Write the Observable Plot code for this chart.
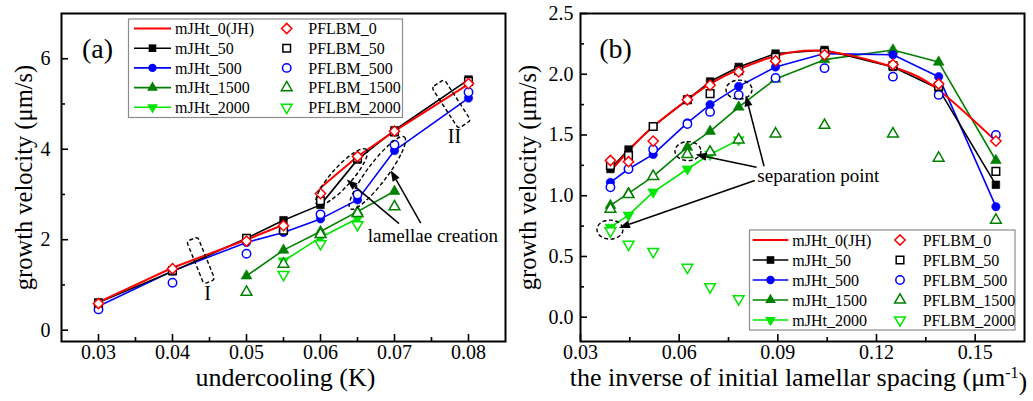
<!DOCTYPE html>
<html>
<head>
<meta charset="utf-8">
<script src="https://cdn.jsdelivr.net/npm/d3@7"></script>
<script src="https://cdn.jsdelivr.net/npm/@observablehq/plot@0.6"></script>
<style>
  body { margin: 0; background: #fff; }
  #fig { position: relative; width: 1033px; height: 401px; background: #fff; overflow: hidden; }
  #fig svg { position: absolute; top: 0; }
</style>
</head>
<body>
<div id="fig"></div>
<script>
// ---------- panel (a): growth velocity against undercooling ----------
const undercooling     = [0.03, 0.04, 0.05, 0.055, 0.06, 0.065, 0.07, 0.08];
const a_mJHt0          = [0.62, 1.38, 2.00, 2.33, 3.15, 3.84, 4.40, 5.44];
const a_mJHt0Branch    = [0, 0, 0, 0, 1, 1, 1, 1];   // JH curve jumps where lamellae are created
const a_PFLBM0         = [0.59, 1.36, 1.97, 2.31, 3.02, 3.84, 4.40, 5.45];
const a_mJHt50         = [0.61, 1.30, 2.03, 2.43, 2.77, 3.77, 4.42, 5.54];
const a_PFLBM50        = [0.60, 1.32, 2.03, 2.21, 2.86, 3.80, 4.38, 5.50];
const a_mJHt500        = [0.53, 1.31, 1.94, 2.16, 2.46, 2.88, 3.97, 5.13];
const a_PFLBM500       = [0.46, 1.05, 1.69, 2.20, 2.56, 3.00, 4.10, 5.26];
const undercooling1500 = [0.05, 0.055, 0.06, 0.065, 0.07];
const a_mJHt1500       = [1.20, 1.77, 2.18, 2.62, 3.07];
const a_PFLBM1500      = [0.84, 1.46, 2.12, 2.58, 2.73];
const undercooling2000 = [0.055, 0.06, 0.065];
const a_mJHt2000       = [1.53, 2.05, 2.47];
const a_PFLBM2000      = [1.23, 1.91, 2.33];

// ---------- panel (b): growth velocity against inverse lamellar spacing ----------
const inverseSpacing     = [0.0391, 0.0446, 0.0521, 0.0625, 0.0694, 0.0781, 0.0893, 0.1042, 0.125, 0.1389, 0.1563];
const b_mJHt0            = [1.20, 1.37, 1.57, 1.79, 1.92, 2.04, 2.15, 2.19, 2.06, 1.87, 1.45];
const b_PFLBM0           = [1.29, 1.28, 1.45, 1.79, 1.91, 2.02, 2.11, 2.16, 2.08, 1.92, 1.45];
const b_mJHt50           = [1.22, 1.38, 1.57, 1.79, 1.94, 2.06, 2.17, 2.20, 2.06, 1.88, 1.09];
const b_PFLBM50          = [1.25, 1.33, 1.57, 1.79, 1.84, 2.03, 2.14, 2.18, 2.07, 1.90, 1.20];
const b_mJHt500          = [1.11, 1.22, 1.34, 1.60, 1.75, 1.90, 2.06, 2.17, 2.16, 1.98, 0.91];
const b_PFLBM500         = [1.07, 1.22, 1.38, 1.59, 1.69, 1.83, 1.97, 2.05, 1.98, 1.83, 1.50];
const b_mJHt1500         = [0.92, 1.02, 1.16, 1.40, 1.53, 1.73, 1.96, 2.12, 2.20, 2.10, 1.29];
const b_PFLBM1500        = [0.89, 1.01, 1.16, 1.34, 1.36, 1.46, 1.51, 1.58, 1.51, 1.31, 0.80];
const inverseSpacing2000 = [0.0391, 0.0446, 0.0521, 0.0625, 0.0694, 0.0781];
const b_mJHt2000         = [0.74, 0.84, 1.03, 1.22, 1.34, 1.46];
const b_PFLBM2000        = [0.71, 0.60, 0.54, 0.41, 0.25, 0.15];

// ---------- legend text and axis ticks ----------
const modelNames = ["mJHt_0(JH)", "mJHt_50", "mJHt_500", "mJHt_1500", "mJHt_2000"];
const simNames   = ["PFLBM_0", "PFLBM_50", "PFLBM_500", "PFLBM_1500", "PFLBM_2000"];
const aTicksX = [0.03, 0.04, 0.05, 0.06, 0.07, 0.08];
const aMinorX = [0.035, 0.045, 0.055, 0.065, 0.075];
const aTicksY = [0, 2, 4, 6];
const aMinorY = [1, 3, 5];
const bTicksX = [0.03, 0.06, 0.09, 0.12, 0.15];
const bMinorX = [0.045, 0.075, 0.105, 0.135];
const bTicksY = [0, 0.5, 1.0, 1.5, 2.0, 2.5];
const bMinorY = [0.25, 0.75, 1.25, 1.75, 2.25];

// ---------- annotations (data coordinates) ----------
const aNotes  = [{text: "I", x: 0.04475, y: 0.80}, {text: "II", x: 0.0781, y: 4.28},
                 {text: "lamellae creation", x: 0.0752, y: 2.08}];
const aBoxes  = [{x: 0.04389, y: 1.53}, {x: 0.07774, y: 4.99}];
const aRings  = [{x: 0.06292, y: 3.377}, {x: 0.06775, y: 3.466}];
const aArrows = [{x1: 0.07068, y1: 2.344, x2: 0.0636, y2: 3.319},
                 {x1: 0.07361, y1: 2.357, x2: 0.06955, y2: 3.526}];
const bNotes  = [{text: "separation point", x: 0.1023, y: 1.162}];
const bRings  = [{x: 0.07835, y: 1.869}, {x: 0.06283, y: 1.363}, {x: 0.0391, y: 0.717}];
const bArrows = [{x1: 0.08367, y1: 1.231, x2: 0.06516, y2: 1.335},
                 {x1: 0.08596, y1: 1.239, x2: 0.08039, y2: 1.822},
                 {x1: 0.08313, y1: 1.121, x2: 0.04184, y2: 0.731}];

// ---------- styling ----------
const FONT = "'Liberation Serif', 'Times New Roman', Times, serif";
const triangleDown = {
  draw(context, size) {
    const y = Math.sqrt(size / (3 * Math.sqrt(3)));
    context.moveTo(0, 2 * y);
    context.lineTo(Math.sqrt(3) * y, -y);
    context.lineTo(-Math.sqrt(3) * y, -y);
    context.closePath();
  }
};
const seriesStyle = [
  {color: "#ff0000", symbol: d3.symbolDiamond2, r: 4.6, lineWidth: 2},
  {color: "#000000", symbol: d3.symbolSquare,   r: 4.3, lineWidth: 1.6},
  {color: "#0000ff", symbol: d3.symbolCircle,   r: 4.2, lineWidth: 1.6},
  {color: "#008000", symbol: d3.symbolTriangle, r: 4.0, lineWidth: 1.6},
  {color: "#00e600", symbol: triangleDown,      r: 4.0, lineWidth: 1.6}
];

const rows = (xs, ys, zs) => xs.map((x, i) => ({x, y: ys[i], z: zs ? zs[i] : 0}));

const H = 401, MT = 13, MB = 60;

function panel(cfg) {
  const innerH = H - MT - MB;
  const innerW = cfg.width - cfg.marginLeft - cfg.marginRight;
  const lineMarks = cfg.lines.map((s, i) => Plot.line(s, {
    x: "x", y: "y", z: "z", stroke: seriesStyle[i].color, strokeWidth: seriesStyle[i].lineWidth,
    curve: i === 0 && cfg.smoothJH ? "natural" : "linear"
  })).reverse();
  const filledMarks = cfg.lines.map((s, i) => i > 0 && Plot.dot(s, {
    x: "x", y: "y", symbol: seriesStyle[i].symbol, r: seriesStyle[i].r,
    fill: seriesStyle[i].color, stroke: seriesStyle[i].color, strokeWidth: 0.6
  })).filter(Boolean).reverse();
  const openMarks = cfg.sims.map((s, i) => Plot.dot(s, {
    x: "x", y: "y", symbol: seriesStyle[i].symbol, r: seriesStyle[i].r,
    fill: "white", stroke: seriesStyle[i].color, strokeWidth: 1.5
  })).reverse();

  return Plot.plot({
    width: cfg.width, height: H,
    marginLeft: cfg.marginLeft, marginRight: cfg.marginRight, marginTop: MT, marginBottom: MB,
    style: {fontFamily: FONT, fontSize: "20px", background: "transparent", color: "black", overflow: "visible"},
    x: {domain: cfg.xDomain, axis: null},
    y: {domain: cfg.yDomain, axis: null},
    marks: [
      ...lineMarks, ...filledMarks, ...openMarks,
      Plot.tickX(cfg.xMajor, {x: d => d, insetTop: innerH - 7, strokeWidth: 1.6}),
      Plot.tickX(cfg.xMinor, {x: d => d, insetTop: innerH - 4, strokeWidth: 1.6}),
      Plot.tickY(cfg.yMajor, {y: d => d, insetRight: innerW - 7, strokeWidth: 1.6}),
      Plot.tickY(cfg.yMinor, {y: d => d, insetRight: innerW - 4, strokeWidth: 1.6}),
      Plot.frame({stroke: "black", strokeWidth: 2}),
      Plot.text(cfg.xMajor, {x: d => d, frameAnchor: "bottom", dy: 17, text: cfg.xFmt, fontSize: 20, fill: "black"}),
      Plot.text(cfg.yMajor, {y: d => d, frameAnchor: "left", dx: -cfg.yPad, textAnchor: "end", text: cfg.yFmt, fontSize: 20, fill: "black"}),
      Plot.text([cfg.xTitle], {frameAnchor: "bottom", dx: cfg.xTitleDx, dy: 44, textAnchor: "middle", fontSize: 26, fill: "black"}),
      Plot.text(["growth velocity (\u03bcm/s)"], {frameAnchor: "left", dx: -cfg.yTitleDx, textAnchor: "middle", rotate: -90, fontSize: 24.5, fill: "black"}),
      Plot.text([cfg.tag], {frameAnchor: "top-left", dx: cfg.tagDx, dy: 25, textAnchor: "middle", fontSize: 28, fill: "black"}),
      Plot.text(cfg.notes, {x: "x", y: "y", text: "text", textAnchor: "middle", fontSize: d => d.text.length > 2 ? 19 : 20, fill: "black"})
    ]
  });
}

function decorate(plot, cfg) {
  const sx = plot.scale("x"), sy = plot.scale("y");
  const svg = d3.select(plot);
  const g = svg.append("g").attr("fill", "none").attr("stroke", "black");
  for (const b of cfg.boxes || []) {
    const cx = sx.apply(b.x), cy = sy.apply(b.y);
    g.append("rect").attr("x", cx - b.w / 2).attr("y", cy - b.h / 2).attr("width", b.w).attr("height", b.h)
      .attr("rx", 3).attr("stroke-width", 1.4).attr("stroke-dasharray", "4,2.5")
      .attr("transform", `rotate(${b.angle},${cx},${cy})`);
  }
  for (const e of cfg.rings || []) {
    const cx = sx.apply(e.x), cy = sy.apply(e.y);
    g.append("ellipse").attr("cx", cx).attr("cy", cy).attr("rx", e.rx).attr("ry", e.ry)
      .attr("stroke-width", 1.4).attr("stroke-dasharray", "4,2.5")
      .attr("transform", `rotate(${e.angle},${cx},${cy})`);
  }
  for (const a of cfg.arrows || []) {
    const x1 = sx.apply(a.x1), y1 = sy.apply(a.y1), x2 = sx.apply(a.x2), y2 = sy.apply(a.y2);
    const ang = Math.atan2(y2 - y1, x2 - x1), L = 11, W = 4;
    const bx = x2 - L * Math.cos(ang), by = y2 - L * Math.sin(ang);
    g.append("line").attr("x1", x1).attr("y1", y1).attr("x2", bx).attr("y2", by).attr("stroke-width", 1.5);
    g.append("path").attr("fill", "black").attr("stroke", "none")
      .attr("d", `M${x2},${y2}L${bx - W * Math.sin(ang)},${by + W * Math.cos(ang)}L${bx + W * Math.sin(ang)},${by - W * Math.cos(ang)}Z`);
  }
  // legend
  const L = cfg.legend;
  const lg = svg.append("g").attr("font-family", FONT).attr("font-size", 16).attr("text-anchor", "start");
  lg.append("rect").attr("x", L.x0).attr("y", L.y0).attr("width", L.x1 - L.x0).attr("height", L.y1 - L.y0)
    .attr("fill", "white").attr("stroke", "#8c8c8c").attr("stroke-width", 1.2);
  modelNames.forEach((name, i) => {
    const st = seriesStyle[i], y = L.row0 + i * L.step;
    lg.append("line").attr("x1", L.lineX1).attr("x2", L.lineX2).attr("y1", y).attr("y2", y)
      .attr("stroke", st.color).attr("stroke-width", st.lineWidth);
    if (i > 0) lg.append("path").attr("transform", `translate(${(L.lineX1 + L.lineX2) / 2},${y})`)
      .attr("d", d3.symbol(st.symbol, Math.PI * st.r * st.r)()).attr("fill", st.color);
    lg.append("text").attr("x", L.textX).attr("y", y).attr("dy", "0.35em").attr("fill", "black").text(name);
    lg.append("path").attr("transform", `translate(${L.symX},${y})`)
      .attr("d", d3.symbol(st.symbol, Math.PI * st.r * st.r)()).attr("fill", "white")
      .attr("stroke", st.color).attr("stroke-width", 1.5);
    lg.append("text").attr("x", L.simTextX).attr("y", y).attr("dy", "0.35em").attr("fill", "black").text(simNames[i]);
  });
  // superscript in axis title
  svg.selectAll("text").filter(function () { return this.textContent.endsWith("\u03bcm-1)"); })
    .each(function () {
      const t = d3.select(this);
      t.text("");
      t.append("tspan").text("the inverse of initial lamellar spacing (\u03bcm");
      t.append("tspan").attr("dy", "-0.45em").attr("font-size", "16px").text("-1");
      t.append("tspan").attr("dy", "0.45em").text(")");
    });
  return plot;
}

const fig = document.getElementById("fig");

const cfgA = {
  width: 516, marginLeft: 61, marginRight: 11,
  xDomain: [0.025, 0.085], yDomain: [-0.25, 7],
  xMajor: aTicksX, xMinor: aMinorX, yMajor: aTicksY, yMinor: aMinorY,
  xFmt: d3.format(".2f"), yFmt: d3.format("d"), yPad: 11, yTitleDx: 37, xTitleDx: 2,
  xTitle: "undercooling (K)", tag: "(a)", tagDx: 36, notes: aNotes,
  lines: [rows(undercooling, a_mJHt0, a_mJHt0Branch), rows(undercooling, a_mJHt50), rows(undercooling, a_mJHt500),
          rows(undercooling1500, a_mJHt1500), rows(undercooling2000, a_mJHt2000)],
  sims:  [rows(undercooling, a_PFLBM0), rows(undercooling, a_PFLBM50), rows(undercooling, a_PFLBM500),
          rows(undercooling1500, a_PFLBM1500), rows(undercooling2000, a_PFLBM2000)],
  boxes: [{...aBoxes[0], w: 12, h: 46, angle: -22}, {...aBoxes[1], w: 15, h: 49, angle: -33}],
  rings: [{...aRings[0], rx: 37, ry: 10, angle: -48}, {...aRings[1], rx: 45, ry: 10, angle: -53}],
  arrows: aArrows,
  legend: {x0: 128.5, y0: 19, x1: 402.5, y1: 117.5, row0: 28.5, step: 19.7,
           lineX1: 134, lineX2: 171, textX: 175, symX: 286.7, simTextX: 308.3}
};

const cfgB = {
  width: 517, marginLeft: 64, marginRight: 9, smoothJH: true,
  xDomain: [0.03, 0.165], yDomain: [-0.2, 2.5],
  xMajor: bTicksX, xMinor: bMinorX, yMajor: bTicksY, yMinor: bMinorY,
  xFmt: d3.format(".2f"), yFmt: d3.format(".1f"), yPad: 7, yTitleDx: 52, xTitleDx: -4,
  xTitle: "the inverse of initial lamellar spacing (\u03bcm-1)", tag: "(b)", tagDx: 35, notes: bNotes,
  lines: [rows(inverseSpacing, b_mJHt0), rows(inverseSpacing, b_mJHt50), rows(inverseSpacing, b_mJHt500),
          rows(inverseSpacing, b_mJHt1500), rows(inverseSpacing2000, b_mJHt2000)],
  sims:  [rows(inverseSpacing, b_PFLBM0), rows(inverseSpacing, b_PFLBM50), rows(inverseSpacing, b_PFLBM500),
          rows(inverseSpacing, b_PFLBM1500), rows(inverseSpacing2000, b_PFLBM2000)],
  rings: bRings.map(r => ({...r, rx: 13, ry: 9.5, angle: 0})),
  arrows: bArrows,
  legend: {x0: 233.5, y0: 230, x1: 499, y1: 330, row0: 240, step: 20,
           lineX1: 236.7, lineX2: 272.3, textX: 276.3, symX: 384, simTextX: 406.7}
};

const plotA = decorate(panel(cfgA), cfgA);
plotA.style.left = "0px";
fig.appendChild(plotA);
const plotB = decorate(panel(cfgB), cfgB);
plotB.style.left = "516px";
fig.appendChild(plotB);
</script>
</body>
</html>
